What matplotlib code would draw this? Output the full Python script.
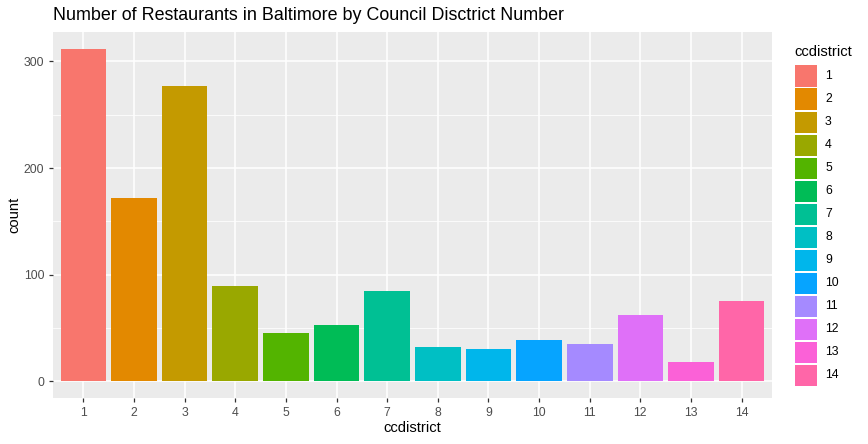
import matplotlib
matplotlib.use("Agg")
import matplotlib.pyplot as plt
from matplotlib.patches import Rectangle

plt.rcParams['font.family'] = ['Liberation Sans', 'DejaVu Sans']

districts = ["1", "2", "3", "4", "5", "6", "7", "8", "9", "10", "11", "12", "13", "14"]
counts = [312, 172, 277, 89, 45, 53, 85, 32, 30, 39, 35, 62, 18, 75]
colors = ["#F8766D", "#E38900", "#C49A00", "#99A800", "#53B400", "#00BC56", "#00C094",
          "#00BFC4", "#00B6EB", "#06A4FF", "#A58AFF", "#DF70F8", "#FB61D7", "#FF66A8"]
yticks = [0, 100, 200, 300]
yminor = [50, 150, 250]

W, H = 868, 444
fig = plt.figure(figsize=(W / 100, H / 100), dpi=100)
fig.patch.set_facecolor("white")

# panel in pixels
pl, pr, pt, pb = 53, 772, 32, 398
ax = fig.add_axes([pl / W, 1 - pb / H, (pr - pl) / W, (pb - pt) / H])
ax.set_facecolor("#EBEBEB")
for s in ax.spines.values():
    s.set_visible(False)

x = list(range(1, len(districts) + 1))
ymax = max(counts)
ax.set_ylim(-0.05 * ymax, 1.05 * ymax)
ax.set_xlim(0.4, len(districts) + 0.6)

for v in yminor:
    ax.axhline(v, color="white", lw=0.55, zorder=0)
for v in yticks:
    ax.axhline(v, color="white", lw=1.1, zorder=0)
for xi in x:
    ax.axvline(xi, color="white", lw=1.1, zorder=0)

ax.bar(x, counts, width=0.9, color=colors, zorder=2)

ax.set_xticks(x)
ax.set_xticklabels(districts)
ax.set_yticks(yticks)
ax.tick_params(axis="both", length=2.75, width=0.9, color="#333333",
               labelsize=8.8, labelcolor="#4D4D4D", pad=3.5)
ax.set_xlabel("ccdistrict", fontsize=10.6, color="black", labelpad=2)
ax.set_ylabel("count", fontsize=10.6, color="black", labelpad=1.5)

fig.text(pl / W, 1 - 16 / H, "Number of Restaurants in Baltimore by Council Disctrict Number",
         fontsize=12.9, color="black", ha="left", va="center")

# legend
lax = fig.add_axes([0, 0, 1, 1])
lax.set_xlim(0, W)
lax.set_ylim(H, 0)
lax.axis("off")
lax.text(794, 52, "ccdistrict", fontsize=10.6, ha="left", va="center")
key_x, key_w, key_h, top0, step = 795, 21.5, 21.5, 65.5, 23.0
for i, (lab, c) in enumerate(zip(districts, colors)):
    y0 = top0 + i * step
    lax.add_patch(Rectangle((key_x, y0), key_w, key_h, facecolor=c, edgecolor="none"))
    lax.text(825, y0 + key_h / 2, lab, fontsize=8.8, ha="left", va="center", color="black")

fig.savefig("out.png", dpi=100)
